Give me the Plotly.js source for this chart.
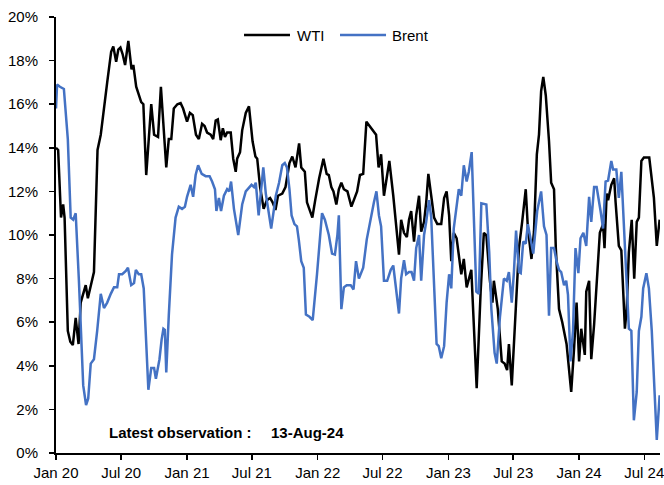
<!DOCTYPE html>
<html>
<head>
<meta charset="utf-8">
<script src="https://cdn.plot.ly/plotly-3.0.1.min.js"></script>
<style>html,body{margin:0;padding:0;background:#fff;}#chart{width:664px;height:485px;}</style>
</head>
<body>
<div id="chart"></div>
<script>
var wtiDates = ["2020-01-01","2020-01-07","2020-01-15","2020-01-21","2020-01-25","2020-02-03","2020-02-10","2020-02-17","2020-02-25","2020-03-04","2020-03-10","2020-03-24","2020-03-30","2020-04-16","2020-04-26","2020-05-05","2020-05-23","2020-06-03","2020-06-09","2020-06-17","2020-06-23","2020-06-29","2020-07-05","2020-07-12","2020-07-21","2020-07-30","2020-08-04","2020-08-12","2020-08-26","2020-09-01","2020-09-09","2020-09-23","2020-10-01","2020-10-12","2020-10-20","2020-10-27","2020-11-04","2020-11-11","2020-11-18","2020-11-25","2020-12-05","2020-12-14","2020-12-21","2021-01-01","2021-01-09","2021-01-17","2021-01-26","2021-02-03","2021-02-12","2021-02-19","2021-02-26","2021-03-08","2021-03-15","2021-03-22","2021-03-28","2021-04-05","2021-04-11","2021-04-17","2021-04-23","2021-05-03","2021-05-10","2021-05-17","2021-05-21","2021-05-29","2021-06-04","2021-06-14","2021-06-23","2021-07-03","2021-07-11","2021-07-16","2021-07-24","2021-08-03","2021-08-12","2021-08-21","2021-08-28","2021-09-05","2021-09-12","2021-09-24","2021-10-03","2021-10-14","2021-10-22","2021-10-31","2021-11-10","2021-11-16","2021-11-26","2021-12-02","2021-12-12","2021-12-17","2021-12-25","2022-01-05","2022-01-17","2022-01-26","2022-02-01","2022-02-08","2022-02-14","2022-02-22","2022-03-01","2022-03-08","2022-03-15","2022-03-25","2022-04-05","2022-04-15","2022-04-21","2022-04-29","2022-05-08","2022-05-17","2022-05-30","2022-06-13","2022-06-20","2022-06-27","2022-07-05","2022-07-20","2022-07-31","2022-08-08","2022-08-16","2022-08-22","2022-08-30","2022-09-07","2022-09-13","2022-09-19","2022-09-27","2022-10-03","2022-10-11","2022-10-17","2022-10-25","2022-10-31","2022-11-06","2022-11-14","2022-11-22","2022-12-01","2022-12-12","2022-12-20","2022-12-27","2023-01-03","2023-01-09","2023-01-16","2023-01-24","2023-02-06","2023-02-13","2023-02-21","2023-03-06","2023-03-21","2023-04-01","2023-04-10","2023-04-17","2023-04-27","2023-05-04","2023-05-08","2023-05-19","2023-05-30","2023-06-07","2023-06-14","2023-06-19","2023-06-27","2023-07-08","2023-07-17","2023-07-26","2023-08-05","2023-08-11","2023-08-21","2023-08-28","2023-09-05","2023-09-11","2023-09-17","2023-09-23","2023-09-30","2023-10-09","2023-10-15","2023-10-23","2023-10-28","2023-11-06","2023-11-15","2023-11-27","2023-12-04","2023-12-10","2023-12-18","2023-12-25","2024-01-01","2024-01-07","2024-01-17","2024-01-21","2024-01-29","2024-02-04","2024-02-12","2024-02-19","2024-02-28","2024-03-08","2024-03-12","2024-03-18","2024-03-22","2024-03-31","2024-04-08","2024-04-12","2024-04-21","2024-04-28","2024-05-08","2024-05-13","2024-05-19","2024-05-27","2024-06-03","2024-06-10","2024-06-16","2024-06-23","2024-06-30","2024-07-15","2024-07-28","2024-08-05","2024-08-13"];
var wtiValues = [14.0,13.9,10.8,11.4,10.8,5.6,5.1,4.95,6.2,5.0,6.9,7.7,7.1,8.3,13.9,14.6,17.0,18.4,18.65,17.95,18.5,18.6,18.3,17.8,18.9,17.6,17.8,16.8,16.1,16.0,12.75,16.0,14.6,14.5,16.8,15.0,13.1,14.4,14.4,15.8,16.0,16.05,15.8,15.2,15.6,15.5,14.6,14.4,15.1,15.0,14.7,14.6,14.4,15.25,15.3,14.35,14.9,14.5,14.7,14.7,13.5,12.9,13.5,13.8,14.8,15.6,15.9,14.3,13.6,13.5,12.2,11.2,11.6,11.7,11.5,11.15,11.8,11.9,12.2,13.3,13.6,13.1,14.2,13.1,12.9,11.5,11.0,10.8,11.6,12.6,13.5,12.8,12.75,12.2,12.0,11.4,12.1,12.4,12.1,12.0,11.3,11.8,12.0,12.75,12.8,15.2,14.9,14.6,13.1,13.7,11.8,13.4,11.8,10.4,9.1,10.7,10.1,9.9,10.7,11.1,9.7,10.9,11.8,10.15,10.6,11.5,12.8,11.8,10.8,10.5,10.5,11.7,12.0,10.9,8.8,10.1,9.85,8.2,8.9,7.6,8.4,2.97,7.4,10.1,10.0,7.9,6.9,7.9,6.6,4.2,4.1,3.8,5.0,3.1,6.6,9.4,10.6,12.1,10.3,8.9,10.15,13.7,14.6,16.6,17.25,16.4,14.3,12.4,12.1,9.4,6.6,6.0,5.0,3.9,2.8,4.8,6.9,4.2,5.7,4.5,7.4,7.9,4.3,5.9,7.55,10.1,10.5,9.4,11.9,11.6,12.3,12.6,11.5,9.5,9.3,5.7,6.6,9.2,10.7,8.0,10.6,10.8,13.4,13.55,13.55,11.7,9.5,10.7];

var brentDates = ["2020-01-01","2020-01-04","2020-01-12","2020-01-23","2020-02-03","2020-02-11","2020-02-18","2020-02-25","2020-03-05","2020-03-17","2020-03-25","2020-03-31","2020-04-07","2020-04-16","2020-04-25","2020-05-05","2020-05-14","2020-05-23","2020-06-02","2020-06-11","2020-06-20","2020-06-25","2020-07-04","2020-07-14","2020-07-20","2020-07-29","2020-08-06","2020-08-11","2020-08-19","2020-08-26","2020-09-02","2020-09-10","2020-09-15","2020-09-23","2020-10-01","2020-10-06","2020-10-16","2020-10-22","2020-10-27","2020-10-31","2020-11-04","2020-11-11","2020-11-20","2020-11-30","2020-12-09","2020-12-18","2020-12-26","2021-01-01","2021-01-11","2021-01-18","2021-01-25","2021-02-01","2021-02-11","2021-02-22","2021-03-05","2021-03-12","2021-03-20","2021-03-24","2021-03-31","2021-04-06","2021-04-14","2021-04-23","2021-04-29","2021-05-04","2021-05-12","2021-05-24","2021-06-04","2021-06-14","2021-06-23","2021-06-30","2021-07-07","2021-07-12","2021-07-20","2021-08-02","2021-08-09","2021-08-18","2021-08-24","2021-08-31","2021-09-06","2021-09-15","2021-09-24","2021-10-01","2021-10-07","2021-10-14","2021-10-20","2021-10-28","2021-11-04","2021-11-09","2021-11-16","2021-11-23","2021-11-29","2021-12-09","2021-12-18","2021-12-30","2022-01-07","2022-01-13","2022-01-21","2022-02-01","2022-02-10","2022-02-18","2022-02-25","2022-03-01","2022-03-08","2022-03-15","2022-03-23","2022-04-03","2022-04-11","2022-04-18","2022-04-26","2022-05-08","2022-05-18","2022-05-27","2022-06-02","2022-06-07","2022-06-14","2022-06-21","2022-06-27","2022-07-05","2022-07-14","2022-07-24","2022-07-31","2022-08-07","2022-08-16","2022-08-22","2022-08-30","2022-09-05","2022-09-13","2022-09-20","2022-09-27","2022-10-03","2022-10-11","2022-10-17","2022-10-25","2022-10-31","2022-11-08","2022-11-14","2022-11-22","2022-11-29","2022-12-05","2022-12-12","2022-12-20","2022-12-27","2023-01-03","2023-01-09","2023-01-16","2023-01-24","2023-01-30","2023-02-06","2023-02-13","2023-02-21","2023-02-27","2023-03-07","2023-03-13","2023-03-20","2023-03-27","2023-04-03","2023-04-17","2023-04-25","2023-05-01","2023-05-10","2023-05-16","2023-05-25","2023-06-05","2023-06-13","2023-06-19","2023-06-27","2023-07-03","2023-07-09","2023-07-17","2023-07-22","2023-07-29","2023-08-05","2023-08-11","2023-08-19","2023-08-26","2023-09-06","2023-09-17","2023-09-25","2023-10-02","2023-10-09","2023-10-15","2023-10-23","2023-10-30","2023-11-06","2023-11-12","2023-11-20","2023-11-26","2023-12-01","2023-12-08","2023-12-15","2023-12-22","2023-12-30","2024-01-05","2024-01-13","2024-01-21","2024-01-29","2024-02-04","2024-02-12","2024-02-19","2024-03-01","2024-03-08","2024-03-15","2024-03-22","2024-03-31","2024-04-05","2024-04-14","2024-04-21","2024-04-28","2024-05-05","2024-05-13","2024-05-19","2024-05-26","2024-06-02","2024-06-10","2024-06-16","2024-06-23","2024-06-28","2024-07-07","2024-07-14","2024-07-22","2024-07-30","2024-08-05","2024-08-13"];
var brentValues = [15.8,16.9,16.8,16.7,14.4,10.8,10.7,11.0,7.9,3.1,2.2,2.5,4.1,4.3,5.6,7.3,6.65,6.9,7.3,7.6,7.6,8.2,8.2,8.35,8.5,7.7,7.8,8.4,8.2,8.2,7.55,5.0,2.9,3.9,3.9,3.4,4.3,5.2,5.7,5.65,3.7,6.3,9.1,10.8,11.3,11.2,11.3,11.75,12.3,11.75,12.75,13.2,12.8,12.7,12.7,12.45,12.1,11.1,11.7,11.1,11.8,12.1,12.0,12.45,11.2,10.0,11.4,12.0,12.2,12.3,12.2,12.4,10.9,13.1,11.9,11.0,10.3,11.1,11.8,12.4,13.2,13.3,13.1,12.1,10.9,10.5,10.4,9.8,8.8,8.5,6.35,6.25,6.1,8.2,10.0,11.0,10.7,10.0,9.15,9.1,10.0,10.9,6.6,7.6,7.7,7.7,7.5,8.8,8.0,8.5,9.8,10.6,11.0,11.5,12.0,10.9,10.4,7.9,7.9,8.4,8.6,7.6,6.4,8.0,8.85,8.2,8.3,8.3,7.9,9.4,10.0,7.9,10.0,10.6,11.6,10.8,7.25,5.0,4.9,4.35,4.9,6.9,8.2,7.55,10.3,11.5,12.1,11.8,13.2,12.45,12.9,13.8,11.1,7.4,7.3,11.45,11.4,9.2,6.6,4.6,4.1,6.25,8.0,7.9,8.3,6.9,8.3,10.2,8.3,8.25,9.7,9.6,10.5,9.7,9.15,11.1,12.0,10.4,10.0,6.3,9.4,9.4,8.8,8.4,8.3,7.7,7.9,7.25,4.2,5.6,9.4,8.25,9.85,10.1,9.5,11.75,10.6,12.2,12.2,11.1,10.3,12.45,12.5,13.4,13.0,13.0,11.7,12.9,10.6,8.2,5.7,5.6,1.5,2.8,5.6,6.25,7.55,8.25,7.55,5.6,2.3,0.6,2.65];

var seriesNames = ["WTI", "Brent"];
var seriesColors = ["#000000", "#4472C4"];
var annotationLabel = "Latest observation :";
var annotationDate = "13-Aug-24";

var FONT = "Liberation Sans, Arial, sans-serif";

var traces = [
  {x: wtiDates, y: wtiValues, name: seriesNames[0], type: "scatter", mode: "lines",
   line: {color: seriesColors[0], width: 2.5}, showlegend: false},
  {x: brentDates, y: brentValues, name: seriesNames[1], type: "scatter", mode: "lines",
   line: {color: seriesColors[1], width: 2.5}, showlegend: false}
];

// custom legend (longer line keys as in the reference)
var legendY = 0.9587;
var legendKeys = [[0.3113, 0.3874, 0.3957], [0.4702, 0.5464, 0.553]];
var shapes = [];
var annotations = [];
for (var i = 0; i < seriesNames.length; i++) {
  shapes.push({type: "line", xref: "paper", yref: "paper",
    x0: legendKeys[i][0], x1: legendKeys[i][1], y0: legendY, y1: legendY,
    line: {color: seriesColors[i], width: 2.5}});
  annotations.push({xref: "paper", yref: "paper", x: legendKeys[i][2], y: legendY,
    xanchor: "left", yanchor: "middle", text: seriesNames[i], showarrow: false,
    font: {family: FONT, size: 15, color: "#000"}});
}
annotations.push({xref: "paper", yref: "paper", x: 0.084, y: 0.048, xanchor: "left", yanchor: "middle",
  text: "<b>" + annotationLabel + "</b>", showarrow: false,
  font: {family: FONT, size: 15, color: "#000"}});
annotations.push({xref: "paper", yref: "paper", x: 0.353, y: 0.048, xanchor: "left", yanchor: "middle",
  text: "<b>" + annotationDate + "</b>", showarrow: false,
  font: {family: FONT, size: 15, color: "#000"}});

var layout = {
  width: 664, height: 485,
  margin: {l: 56, r: 4, t: 17, b: 32},
  paper_bgcolor: "#ffffff", plot_bgcolor: "#ffffff",
  font: {family: FONT, size: 15, color: "#000"},
  showlegend: false,
  xaxis: {
    type: "date", range: ["2020-01-01", "2024-08-14"],
    tick0: "2020-01-01", dtick: "M6", tickformat: "%b %y",
    ticks: "outside", ticklen: 5, tickwidth: 1.5, tickcolor: "#000",
    showline: true, linecolor: "#000", linewidth: 2,
    showgrid: false, zeroline: false, ticklabeloverflow: "allow",
    tickfont: {family: FONT, size: 15, color: "#000"}
  },
  yaxis: {
    range: [0, 20], dtick: 2, ticksuffix: "%",
    ticks: "outside", ticklen: 5, tickwidth: 1.5, tickcolor: "#000",
    showline: true, linecolor: "#000", linewidth: 2,
    showgrid: false, zeroline: false, ticklabelstandoff: 8,
    tickfont: {family: FONT, size: 15, color: "#000"}
  },
  shapes: shapes,
  annotations: annotations
};

Plotly.newPlot("chart", traces, layout, {staticPlot: true, displayModeBar: false});
</script>
</body>
</html>
